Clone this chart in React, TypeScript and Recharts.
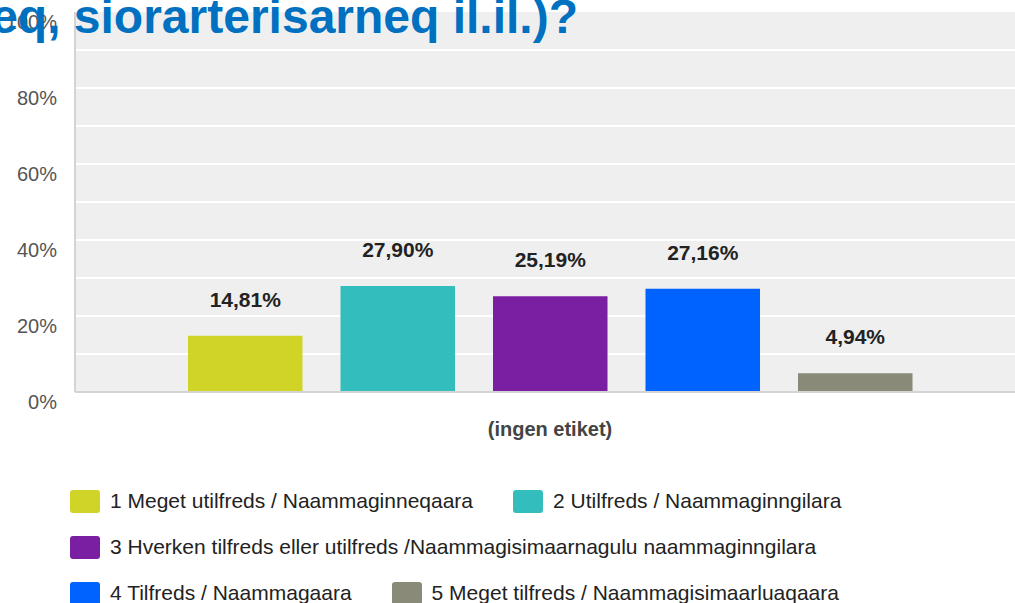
import React from 'react';
import { BarChart, Bar, XAxis, YAxis, CartesianGrid, LabelList } from 'recharts';

const categories = ['(ingen etiket)'];
const seriesNames = [
  '1 Meget utilfreds / Naammaginneqaara',
  '2 Utilfreds / Naammaginngilara',
  '3 Hverken tilfreds eller utilfreds /Naammagisimaarnagulu naammaginngilara',
  '4 Tilfreds / Naammagaara',
  '5 Meget tilfreds / Naammagisimaarluaqaara'
];
const seriesValues = [14.81, 27.9, 25.19, 27.16, 4.94];
const seriesColors = ['#D0D426', '#33BDBD', '#7B1FA2', '#0062FF', '#898A78'];
const yTicks = [0, 10, 20, 30, 40, 50, 60, 70, 80, 90, 100];
const gridValues = [10, 20, 30, 40, 50, 60, 70, 80, 90];
const titleText = 'eq, siorarterisarneq il.il.)?';

const FONT = '"Liberation Sans", Arial, sans-serif';

const data = categories.map((name) => {
  const row: Record<string, string | number> = { name };
  seriesValues.forEach((v, i) => {
    row['s' + i] = v;
  });
  return row;
});

const fmt = (v: number) => v.toFixed(2).replace('.', ',') + '%';

const YTick = ({ y, payload }: any) => {
  if (payload.value % 20 !== 0) return <g />;
  return (
    <text x={57} y={y + 17} textAnchor="end" fontSize={20} fill="#555" fontFamily={FONT}>
      {payload.value}%
    </text>
  );
};

const XTick = ({ x, y, payload }: any) => (
  <text x={x} y={y + 44} textAnchor="middle" fontSize={20} fontWeight={700} fill="#444" fontFamily={FONT}>
    {payload.value}
  </text>
);

const BarLabel = ({ x, y, width, value }: any) => (
  <text
    x={x + width / 2}
    y={y - 29}
    textAnchor="middle"
    fontSize={21}
    fontWeight={700}
    fill="#222"
    fontFamily={FONT}
  >
    {fmt(value)}
  </text>
);

export default function App() {
  return (
    <div
      style={{
        position: 'absolute',
        left: 0,
        top: 0,
        width: 1015,
        height: 603,
        overflow: 'hidden',
        background: '#fff',
        fontFamily: FONT
      }}
    >
      <BarChart
        width={1040}
        height={460}
        data={data}
        margin={{ top: 12, right: 15, bottom: 8, left: 0 }}
        barGap={38}
      >
        <CartesianGrid
          fill="#EFEFEF"
          stroke="#FFFFFF"
          strokeWidth={2}
          vertical={false}
          horizontalValues={gridValues}
        />
        <XAxis
          dataKey="name"
          height={60}
          tickLine={false}
          tickSize={0}
          tickMargin={0}
          tick={<XTick />}
          axisLine={{ stroke: '#D4D4D4', strokeWidth: 2 }}
        />
        <YAxis
          width={75}
          domain={[0, 100]}
          ticks={yTicks}
          interval={0}
          tickLine={false}
          tick={<YTick />}
          axisLine={{ stroke: '#D4D4D4', strokeWidth: 2 }}
        />
        {seriesNames.map((n, i) => (
          <Bar
            key={n}
            dataKey={'s' + i}
            name={n}
            fill={seriesColors[i]}
            barSize={114.5}
            isAnimationActive={false}
          >
            <LabelList dataKey={'s' + i} content={<BarLabel />} />
          </Bar>
        ))}
      </BarChart>

      <svg
        width={1015}
        height={60}
        style={{ position: 'absolute', left: 0, top: 0, overflow: 'hidden' }}
      >
        <text
          x={578}
          y={33}
          textAnchor="end"
          fontSize={48}
          fontWeight={700}
          fill="#0070C0"
          fontFamily={FONT}
        >
          {titleText}
        </text>
      </svg>

      <div
        style={{
          position: 'absolute',
          left: 70,
          top: 478,
          width: 880,
          display: 'flex',
          flexWrap: 'wrap',
          columnGap: 40
        }}
      >
        {seriesNames.map((n, i) => (
          <div key={n} style={{ display: 'flex', alignItems: 'center', height: 46 }}>
            <div
              style={{
                width: 30,
                height: 23,
                borderRadius: 3,
                background: seriesColors[i],
                marginRight: 10
              }}
            />
            <span style={{ fontSize: 21, color: '#222', whiteSpace: 'nowrap' }}>{n}</span>
          </div>
        ))}
      </div>
    </div>
  );
}
